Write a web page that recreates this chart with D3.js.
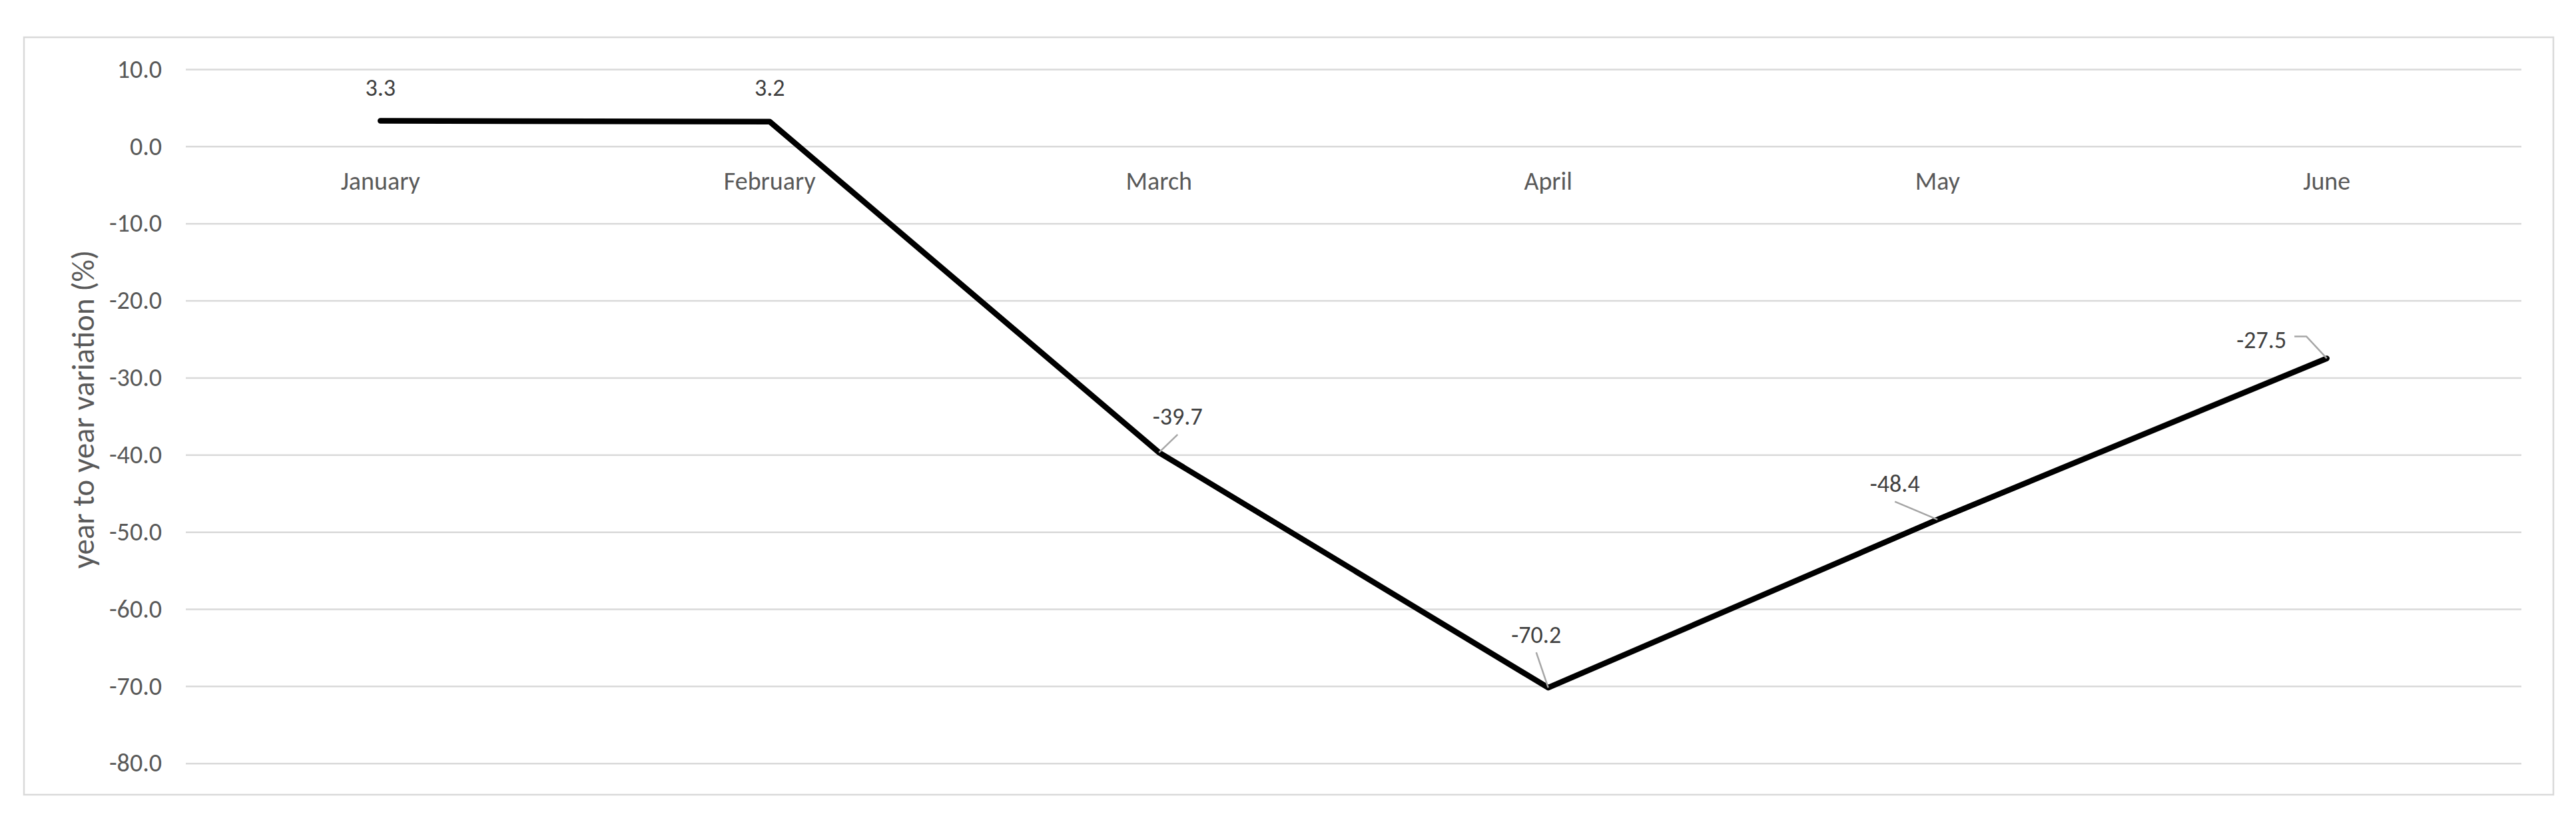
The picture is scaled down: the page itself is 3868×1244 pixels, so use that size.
<!DOCTYPE html>
<html>
<head>
<meta charset="utf-8">
<script src="https://cdn.jsdelivr.net/npm/d3@7/dist/d3.min.js"></script>
<style>
    html, body { margin: 0; padding: 0; background: #fff; }
    svg text { font-family: Calibri, Carlito, Lato, "Open Sans", sans-serif; }
</style>
</head>
<body>
<svg id="chart" width="3868" height="1244"></svg>
<script>
const months = ['January', 'February', 'March', 'April', 'May', 'June'];
const variation = [3.3, 3.2, -39.7, -70.2, -48.4, -27.5];
const yTicks = [10, 0, -10, -20, -30, -40, -50, -60, -70, -80];
const yTitle = 'year to year variation (%)';

// where each data label sits relative to its point (Excel moved some of them by hand)
const labelOffsets = [
    { dx: 0, dy: -50, leader: 'none' },
    { dx: 0, dy: -51, leader: 'none' },
    { dx: 28, dy: -54, leader: 'below' },
    { dx: -18, dy: -80, leader: 'below' },
    { dx: -64, dy: -54, leader: 'below' },
    { dx: -98, dy: -28, leader: 'right' }
];

(function() {
    const svg = d3.select('#chart');
    const left = 279, right = 3786, top = 104, bottom = 1146.7;
    const axisFont = 38, labelFont = 36, titleFont = 47;

    // outer chart frame
    svg.append('rect')
        .attr('x', 36).attr('y', 56)
        .attr('width', 3798).attr('height', 1138)
        .attr('fill', '#fff')
        .attr('stroke', '#d9d9d9')
        .attr('stroke-width', 2.5);

    const x = d3.scaleBand().domain(months).range([left, right]);
    const y = d3.scaleLinear().domain([-80, 10]).range([bottom, top]);
    const cx = d => x(d) + x.bandwidth() / 2;

    // y axis with gridlines
    const yAxis = svg.append('g')
        .attr('transform', `translate(${left},0)`)
        .call(d3.axisLeft(y)
            .tickValues(yTicks)
            .tickSize(-(right - left))
            .tickPadding(36)
            .tickFormat(d => d.toFixed(1)));
    yAxis.select('.domain').remove();
    yAxis.selectAll('.tick line')
        .attr('stroke', '#d9d9d9')
        .attr('stroke-width', 2.5);
    yAxis.selectAll('.tick text')
        .attr('fill', '#595959')
        .style('font-size', axisFont + 'px');

    // category labels hang just under the zero line
    const xAxis = svg.append('g')
        .attr('transform', `translate(0,${y(0)})`)
        .call(d3.axisBottom(x).tickSize(0).tickPadding(0));
    xAxis.select('.domain').remove();
    xAxis.selectAll('.tick text')
        .attr('y', 65)
        .attr('dy', 0)
        .attr('fill', '#595959')
        .style('font-size', axisFont + 'px');

    svg.append('text')
        .attr('transform', `translate(125,615) rotate(-90)`)
        .attr('text-anchor', 'middle')
        .attr('dy', '0.35em')
        .attr('fill', '#595959')
        .style('font-size', titleFont + 'px')
        .text(yTitle);

    const points = months.map((m, i) => ({ m: m, v: variation[i], o: labelOffsets[i] }));

    svg.append('path')
        .datum(points)
        .attr('fill', 'none')
        .attr('stroke', '#000')
        .attr('stroke-width', 8.5)
        .attr('stroke-linecap', 'round')
        .attr('stroke-linejoin', 'round')
        .attr('d', d3.line().x(d => cx(d.m)).y(d => y(d.v)));

    const labels = svg.append('g');
    points.forEach(function(p) {
        const px = cx(p.m), py = y(p.v);
        const lx = px + p.o.dx, ly = py + p.o.dy;
        const t = labels.append('text')
            .attr('x', lx).attr('y', ly)
            .attr('dy', '0.35em')
            .attr('text-anchor', 'middle')
            .attr('fill', '#404040')
            .style('font-size', labelFont + 'px')
            .text(p.v.toFixed(1));

        // leader lines for labels that were dragged away
        if (p.o.leader === 'below') {
            labels.append('line')
                .attr('x1', px).attr('y1', py)
                .attr('x2', lx).attr('y2', ly + 27)
                .attr('stroke', '#a6a6a6').attr('stroke-width', 2.5);
        } else if (p.o.leader === 'right') {
            const w = t.node().getComputedTextLength();
            const ex = lx + w / 2 + 12, ey = ly - 5;
            labels.append('polyline')
                .attr('points', [[ex, ey], [ex + 18, ey], [px, py]].join(' '))
                .attr('fill', 'none')
                .attr('stroke', '#a6a6a6').attr('stroke-width', 2.5);
        }
    });
})();
</script>
</body>
</html>
